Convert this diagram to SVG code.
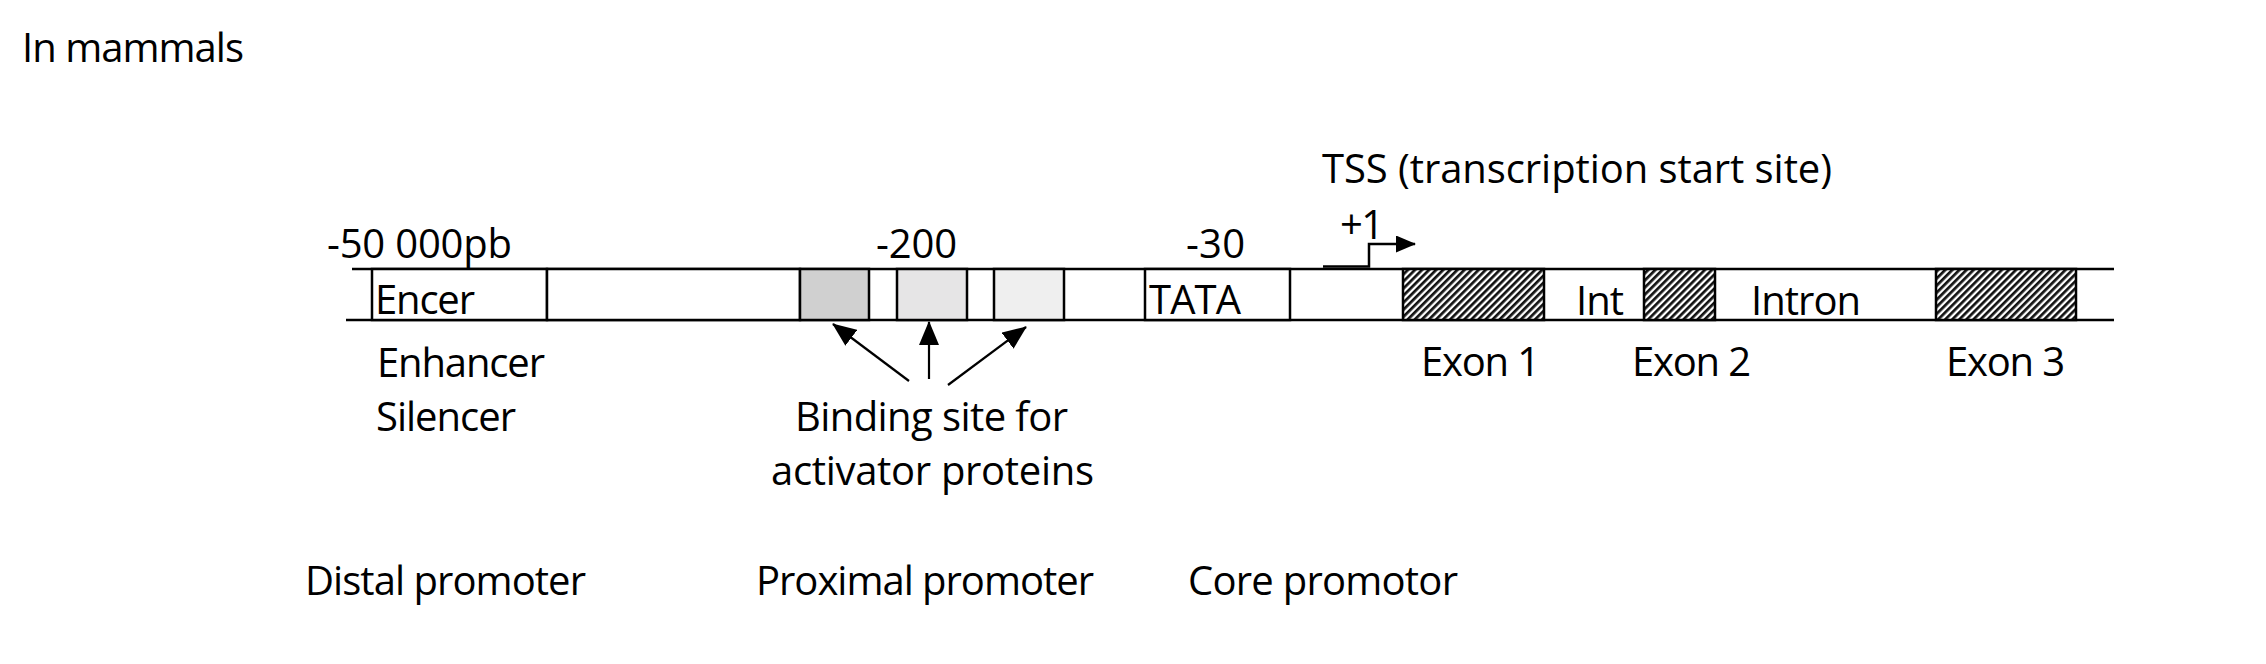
<svg xmlns="http://www.w3.org/2000/svg" width="2266" height="664" viewBox="0 0 2266 664">
<style>
.ln{stroke:#000;stroke-width:2.5;fill:none}
.bx{stroke:#000;stroke-width:2.5}
.ar{stroke:#000;stroke-width:2.2;fill:none;marker-end:url(#ah)}
.t{font-family:"Open Sans","Liberation Sans",sans-serif;font-size:40px;fill:#000}
</style>
<defs>
<pattern id="hatch" width="5" height="5" patternUnits="userSpaceOnUse" patternTransform="rotate(45)">
<rect width="5" height="5" fill="#fff"/>
<rect width="2.7" height="5" fill="#111"/>
</pattern>
<marker id="ah" viewBox="0 0 24 20" markerWidth="24" markerHeight="20" refX="23" refY="10" orient="auto" markerUnits="userSpaceOnUse">
<path d="M0,0 L24,10 L0,20 z" fill="#000"/>
</marker>
<marker id="ahs" viewBox="0 0 20 17" markerWidth="20" markerHeight="17" refX="19" refY="8.5" orient="auto" markerUnits="userSpaceOnUse">
<path d="M0,0 L20,8.5 L0,17 z" fill="#000"/>
</marker>
</defs>
<rect width="2266" height="664" fill="#fff"/>

<g id="title"><text class="t" x="22" y="62" textLength="222">In mammals</text></g>

<g id="backbone">
<line class="ln" x1="352" y1="269" x2="2114" y2="269"/>
<line class="ln" x1="346" y1="320" x2="2114" y2="320"/>
</g>

<g id="enhancer-box">
<rect class="bx" x="372" y="269" width="175" height="51" fill="#fff"/>
<text class="t" x="375" y="314" textLength="100">Encer</text>
</g>
<g id="spacer-box"><rect class="bx" x="547" y="269" width="253" height="51" fill="#fff"/></g>
<g id="site1"><rect class="bx" x="800" y="269" width="69" height="51" fill="#d0d0d0"/></g>
<g id="site2"><rect class="bx" x="897" y="269" width="70" height="51" fill="#e6e5e6"/></g>
<g id="site3"><rect class="bx" x="994" y="269" width="70" height="51" fill="#efefef"/></g>
<g id="tata-box">
<rect class="bx" x="1145" y="269" width="145" height="51" fill="#fff"/>
<text class="t" x="1149" y="314" textLength="92">TATA</text>
</g>
<g id="exon1">
<rect class="bx" x="1403" y="269" width="141" height="51" fill="url(#hatch)"/>
<text class="t" x="1421" y="376" textLength="119">Exon 1</text>
</g>
<g id="intron1"><text class="t" x="1576" y="315" textLength="48">Int</text></g>
<g id="exon2">
<rect class="bx" x="1644" y="269" width="71" height="51" fill="url(#hatch)"/>
<text class="t" x="1632" y="376" textLength="119">Exon 2</text>
</g>
<g id="intron2"><text class="t" x="1751" y="315" textLength="110">Intron</text></g>
<g id="exon3">
<rect class="bx" x="1936" y="269" width="140" height="51" fill="url(#hatch)"/>
<text class="t" x="1946" y="376" textLength="119">Exon 3</text>
</g>

<g id="positions">
<text class="t" x="327" y="258" textLength="185">-50 000pb</text>
<text class="t" x="876" y="258" textLength="81">-200</text>
<text class="t" x="1186" y="258" textLength="59">-30</text>
</g>

<g id="tss">
<text class="t" x="1322" y="183" textLength="510">TSS (transcription start site)</text>
<text class="t" x="1340" y="239" textLength="44">+1</text>
</g>

<g id="enhancer-label">
<text class="t" x="377" y="377" textLength="168">Enhancer</text>
<text class="t" x="376" y="431" textLength="140">Silencer</text>
</g>

<g id="binding-label">
<text class="t" x="795" y="431" textLength="273">Binding site for</text>
<text class="t" x="771" y="485" textLength="323">activator proteins</text>
</g>

<g id="regions">
<text class="t" x="305" y="595" textLength="281">Distal promoter</text>
<text class="t" x="756" y="595" textLength="338">Proximal promoter</text>
<text class="t" x="1188" y="595" textLength="270">Core promotor</text>
</g>

<g id="connectors">
<line class="ar" x1="909" y1="381" x2="833" y2="324"/>
<line class="ar" x1="929" y1="379" x2="929" y2="322"/>
<line class="ar" x1="948" y1="385" x2="1026" y2="327"/>
<polyline points="1323,266.5 1369,266.5 1369,244 1415,244" fill="none" stroke="#000" stroke-width="2.5" marker-end="url(#ahs)"/>
</g>
</svg>
